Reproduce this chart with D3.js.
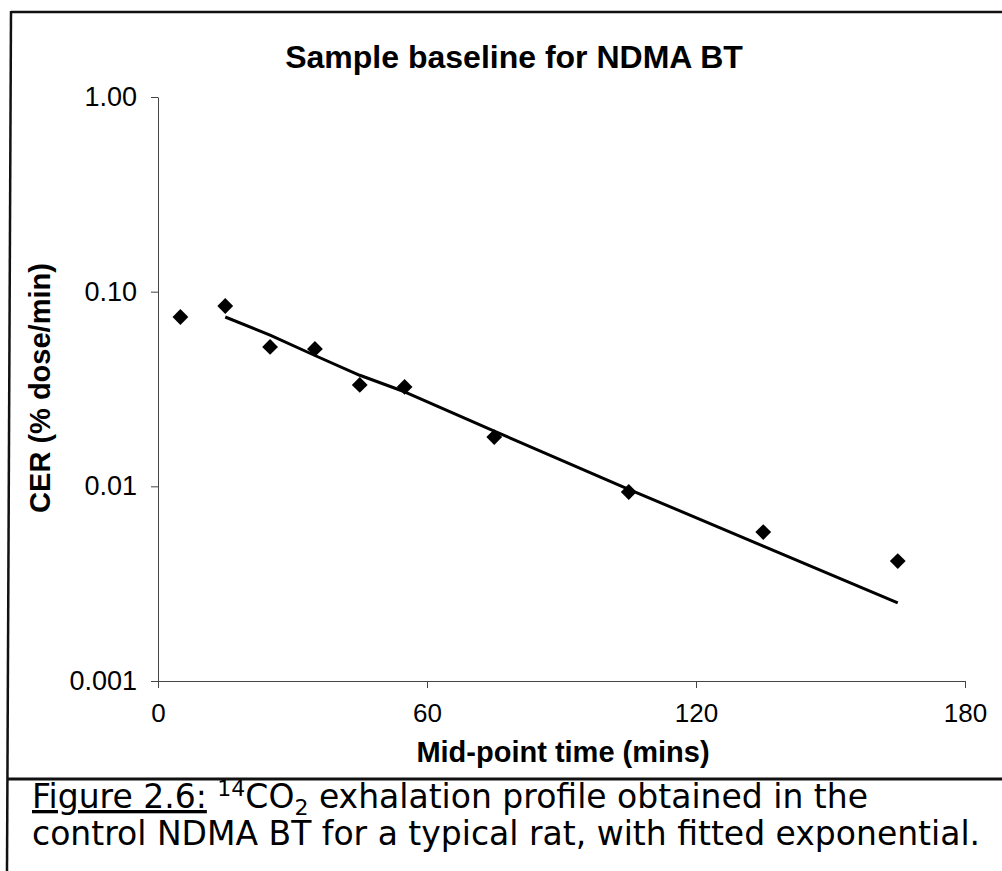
<!DOCTYPE html>
<html>
<head>
<meta charset="utf-8">
<script src="https://cdn.jsdelivr.net/npm/d3@7"></script>
<style>
  body { margin: 0; background: #fff; }
  svg { display: block; }
</style>
</head>
<body>
<div id="chart"></div>
<script>
// Data titik (waktu tengah, CER)
var midTimes = [5, 15, 25, 35, 45, 55, 75, 105, 135, 165];
var cerValues = [0.0741, 0.0844, 0.052, 0.0508, 0.0332, 0.0324, 0.0179, 0.00935, 0.00582, 0.00413];

// Garis eksponensial yang di-fit
var fitTimes = [15, 25, 35, 45, 55, 75, 105, 135, 165];
var fitValues = [0.0741, 0.0598, 0.0470, 0.0372, 0.0306, 0.0192, 0.00966, 0.00493, 0.00252];

// Label sumbu
var xTicks = [0, 60, 120, 180];
var yTicks = [1, 0.1, 0.01, 0.001];
var yTickLabels = ["1.00", "0.10", "0.01", "0.001"];

var chartTitle = "Sample baseline for NDMA BT";
var xTitle = "Mid-point time (mins)";
var yTitle = "CER (% dose/min)";

function createChart(containerId) {
    var width = 1002;
    var height = 871;
    var margin = { top: 97, right: 37, bottom: 190, left: 158 };

    var svg = d3.select("#" + containerId)
        .append("svg")
        .attr("width", width)
        .attr("height", height);

    // Bingkai luar dan garis pemisah keterangan
    svg.append("line")
        .attr("x1", 11).attr("y1", 12).attr("x2", width).attr("y2", 12)
        .attr("stroke", "#111").attr("stroke-width", 2.5);
    svg.append("line")
        .attr("x1", 11).attr("y1", 11).attr("x2", 7).attr("y2", height)
        .attr("stroke", "#111").attr("stroke-width", 2.5);
    svg.append("line")
        .attr("x1", 8).attr("y1", 779).attr("x2", width).attr("y2", 779)
        .attr("stroke", "#111").attr("stroke-width", 3);

    var x = d3.scaleLinear()
        .domain([0, 180])
        .range([margin.left, width - margin.right]);

    var y = d3.scaleLog()
        .domain([0.001, 1])
        .range([height - margin.bottom, margin.top]);

    // Sumbu X
    var xAxis = svg.append("g")
        .attr("transform", "translate(0," + (height - margin.bottom) + ")")
        .call(d3.axisBottom(x).tickValues(xTicks).tickSize(7).tickPadding(16).tickSizeOuter(0));
    xAxis.select(".domain").attr("stroke", "#444");
    xAxis.selectAll("line").attr("stroke", "#444");
    xAxis.selectAll("text")
        .style("font-family", "'Liberation Sans', Arial, sans-serif")
        .style("font-size", "26px")
        .attr("fill", "#000");

    // Sumbu Y (logaritmik)
    var yAxis = svg.append("g")
        .attr("transform", "translate(" + margin.left + ",0)")
        .call(d3.axisLeft(y).tickValues(yTicks).tickSize(7).tickPadding(14).tickSizeOuter(0)
            .tickFormat(function(d, i) { return yTickLabels[i]; }));
    yAxis.select(".domain").attr("stroke", "#444");
    yAxis.selectAll("line").attr("stroke", "#444");
    yAxis.selectAll("text")
        .style("font-family", "'Liberation Sans', Arial, sans-serif")
        .style("font-size", "27px")
        .attr("fill", "#000");

    // Garis fit
    var line = d3.line()
        .x(function(d) { return x(d[0]); })
        .y(function(d) { return y(d[1]); });
    svg.append("path")
        .datum(d3.zip(fitTimes, fitValues))
        .attr("d", line)
        .attr("fill", "none")
        .attr("stroke", "#000")
        .attr("stroke-width", 3)
        .attr("stroke-linejoin", "round");

    // Titik data berbentuk belah ketupat
    svg.selectAll(".pt")
        .data(d3.zip(midTimes, cerValues))
        .enter()
        .append("path")
        .attr("class", "pt")
        .attr("d", d3.symbol(d3.symbolSquare, 125))
        .attr("transform", function(d) { return "translate(" + x(d[0]) + "," + y(d[1]) + ") rotate(45)"; })
        .attr("fill", "#000");

    // Judul diagram
    svg.append("text")
        .attr("x", 514)
        .attr("y", 68)
        .attr("text-anchor", "middle")
        .style("font-family", "'Liberation Sans', Arial, sans-serif")
        .style("font-weight", "bold")
        .style("font-size", "32px")
        .text(chartTitle);

    // Judul sumbu
    svg.append("text")
        .attr("x", 563)
        .attr("y", 762)
        .attr("text-anchor", "middle")
        .style("font-family", "'Liberation Sans', Arial, sans-serif")
        .style("font-weight", "bold")
        .style("font-size", "29px")
        .text(xTitle);

    svg.append("text")
        .attr("transform", "translate(50,388) rotate(-90)")
        .attr("text-anchor", "middle")
        .style("font-family", "'Liberation Sans', Arial, sans-serif")
        .style("font-weight", "bold")
        .style("font-size", "29px")
        .text(yTitle);

    // Keterangan gambar
    var cap = svg.append("g")
        .style("font-family", "'DejaVu Sans', Verdana, sans-serif")
        .style("font-size", "33px")
        .attr("fill", "#000");

    var line1 = cap.append("text").attr("x", 32).attr("y", 808);
    line1.append("tspan").style("text-decoration", "underline").text("Figure 2.6:");
    line1.append("tspan").text(" ");
    line1.append("tspan").attr("dy", -12).style("font-size", "22px").text("14");
    line1.append("tspan").attr("dy", 12).text("CO");
    line1.append("tspan").attr("dy", 7).style("font-size", "22px").text("2");
    line1.append("tspan").attr("dy", -7).text(" exhalation profile obtained in the");

    cap.append("text").attr("x", 32).attr("y", 845)
        .text("control NDMA BT for a typical rat, with fitted exponential.");
}

createChart("chart");
</script>
</body>
</html>
